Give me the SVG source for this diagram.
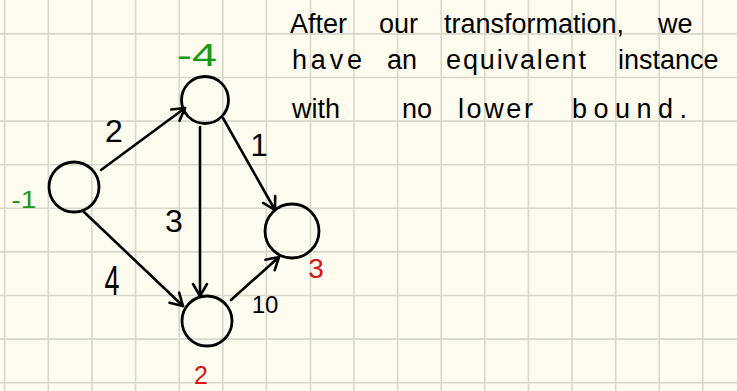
<svg xmlns="http://www.w3.org/2000/svg" width="737" height="391" viewBox="0 0 737 391">
<defs>
<style>
.grid{stroke:#d8d7ca;stroke-width:1.6;fill:none}
.node{fill:none;stroke:#000;stroke-width:2.8}
.edge{fill:none;stroke:#000;stroke-width:2.6;stroke-linecap:round;marker-end:url(#arr)}
.lbl{font-family:"Liberation Sans",Arial,sans-serif;fill:#000;text-anchor:middle}
.g{fill:#1a9a1a}
.r{fill:#d81414}
.note{font-family:"Liberation Sans",Arial,sans-serif;font-size:27px;fill:#000}
</style>
<marker id="arr" markerUnits="userSpaceOnUse" markerWidth="30" markerHeight="30" refX="0" refY="0" viewBox="-15 -15 30 30" orient="auto">
<path d="M-12,-7 L0,0 L-12,7" fill="none" stroke="#000" stroke-width="2.6" stroke-linecap="round" stroke-linejoin="round"/>
</marker>
</defs>
<rect width="737" height="391" fill="#fefcee"/>
<path class="grid" d="M4.7,0V391M48.3,0V391M91.9,0V391M135.6,0V391M179.2,0V391M222.8,0V391M266.4,0V391M310.5,0V391M354,0V391M397.6,0V391M441.2,0V391M484.8,0V391M528.4,0V391M572,0V391M615.7,0V391M659.2,0V391M702.7,0V391M0,33.9H737M0,77.5H737M0,121.1H737M0,164.7H737M0,208.3H737M0,251.9H737M0,295.5H737M0,339.1H737M0,382.7H737"/>
<g id="connectors">
<path class="edge" d="M101,170 L185,108"/>
<path class="edge" d="M200,127 L200,296"/>
<path class="edge" d="M223,118 L275,210"/>
<path class="edge" d="M83,211 L183,306"/>
<path class="edge" d="M231,300 L279,257"/>
<text class="lbl" x="114" y="142" font-size="32">2</text>
<text class="lbl" x="259" y="156" font-size="31">1</text>
<text class="lbl" x="174" y="232" font-size="32">3</text>
<text class="lbl" x="112" y="295" font-size="42" textLength="15" lengthAdjust="spacingAndGlyphs">4</text>
<text class="lbl" x="265" y="313" font-size="24">10</text>
</g>
<g id="nodeA"><circle class="node" cx="74" cy="187" r="25"/><text class="lbl g" x="24" y="208" font-size="24" textLength="25" lengthAdjust="spacingAndGlyphs">-1</text></g>
<g id="nodeB"><circle class="node" cx="205" cy="100" r="23.5"/><text class="lbl g" x="197" y="66" font-size="31" textLength="40" lengthAdjust="spacingAndGlyphs">-4</text></g>
<g id="nodeC"><circle class="node" cx="292" cy="231" r="27"/><text class="lbl r" x="316" y="278" font-size="28">3</text></g>
<g id="nodeD"><circle class="node" cx="207" cy="321" r="25"/><text class="lbl r" x="201" y="384" font-size="25">2</text></g>
<g id="note">
<text class="note" y="33"><tspan x="290">After</tspan><tspan x="379">our</tspan><tspan x="444">transformation,</tspan><tspan x="658">we</tspan></text>
<text class="note" y="69"><tspan x="292" textLength="70" lengthAdjust="spacing">have</tspan><tspan x="387">an</tspan><tspan x="446" textLength="140" lengthAdjust="spacing">equivalent</tspan><tspan x="618">instance</tspan></text>
<text class="note" y="118"><tspan x="292">with</tspan><tspan x="402">no</tspan><tspan x="458" textLength="75" lengthAdjust="spacing">lower</tspan><tspan x="572" textLength="115" lengthAdjust="spacing">bound.</tspan></text>
</g>
</svg>
